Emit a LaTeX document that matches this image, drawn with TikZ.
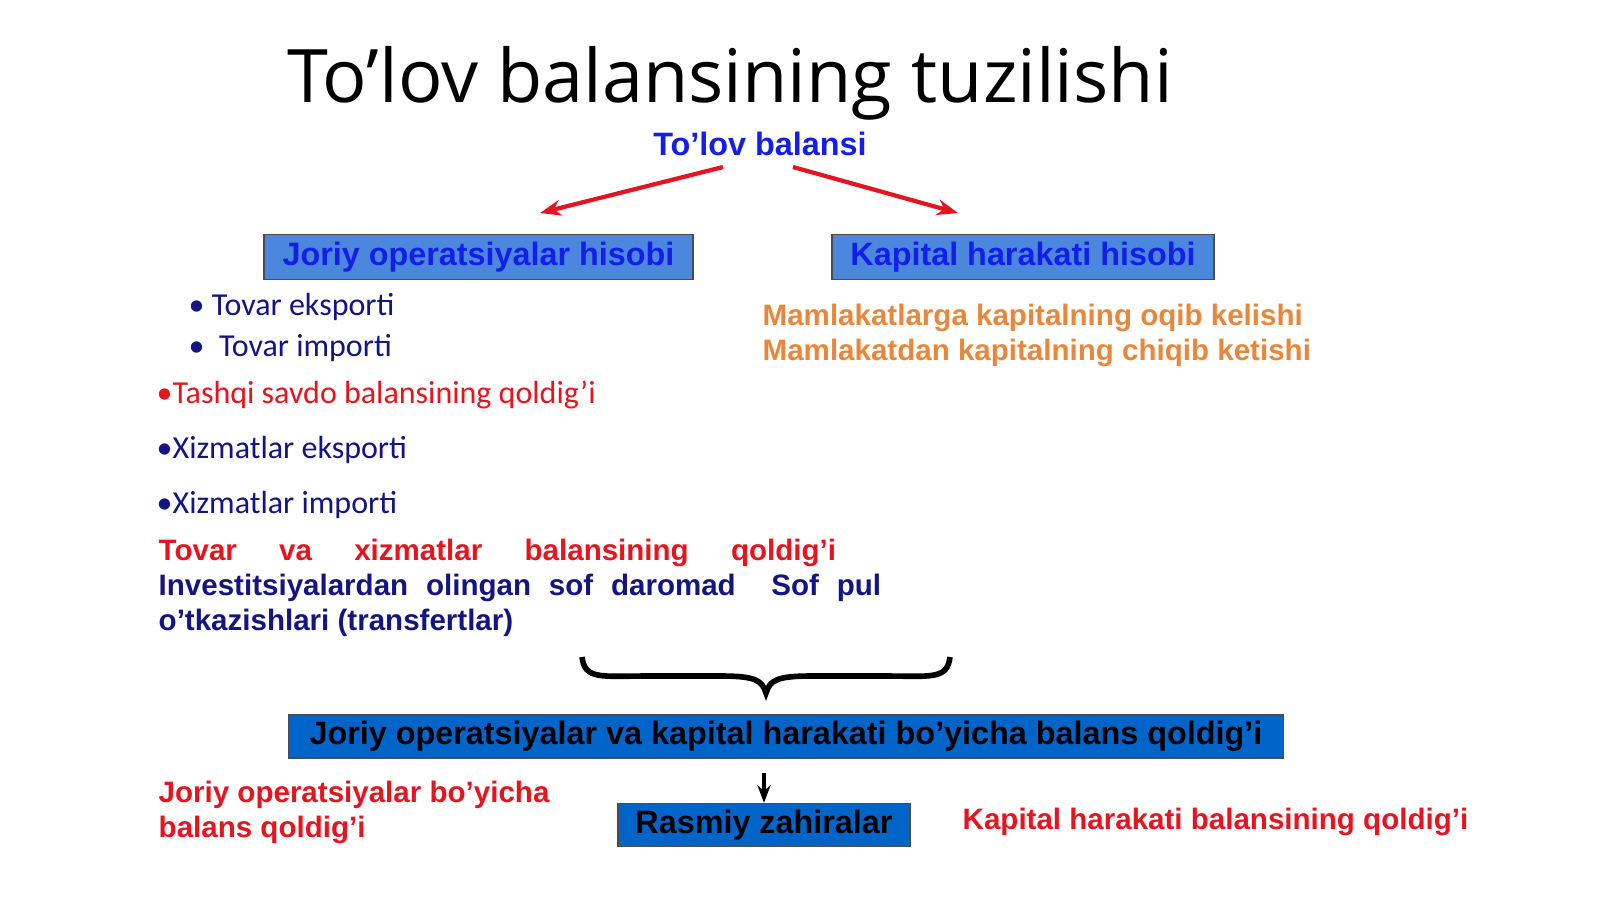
\documentclass[tikz,border=0pt]{standalone}
\usepackage{fontspec}
\setmainfont{Liberation Sans}
\newfontfamily\titlefont{Open Sans}
\newfontfamily\listfont{Carlito}
\usetikzlibrary{arrows.meta}
\definecolor{navy}{RGB}{20,20,130}
\definecolor{redtxt}{RGB}{230,20,30}
\definecolor{orangetxt}{RGB}{232,135,60}
\definecolor{bluetxt}{RGB}{20,30,235}
\definecolor{boxlight}{RGB}{75,135,220}
\definecolor{boxdark}{RGB}{0,100,200}
\tikzset{
  head/.style={font=\fontsize{9.2}{11}\selectfont\bfseries, inner sep=0pt},
  item/.style={font=\listfont\fontsize{9.1}{11}\selectfont, anchor=west, inner sep=0pt},
  bold/.style={font=\fontsize{8.4}{10}\selectfont\bfseries, anchor=west, inner sep=0pt},
  hbox/.style={draw=black!70, fill=boxlight, text=bluetxt, font=\fontsize{9.2}{11}\selectfont\bfseries, minimum height=0.45cm, inner sep=0pt},
  dbox/.style={draw=black!70, fill=boxdark, text=black, font=\fontsize{9.2}{11}\selectfont\bfseries, minimum height=0.43cm, inner sep=0pt},
  link/.style={redtxt, line width=1.2pt, -{Stealth[length=6pt]}}
}
\begin{document}
\begin{tikzpicture}[x=0.01cm, y=-0.01cm]
  \useasboundingbox (0,0) rectangle (1600,899);

  % title
  \node[font=\titlefont\fontsize{21}{24}\selectfont, inner sep=0pt] (title) at (730,83) {To’lov balansining tuzilishi};
  \node[head, text=bluetxt] (root) at (760,144) {To’lov balansi};

  % two accounts
  \node[hbox, minimum width=4.29cm] (cur) at (478.5,257) {Joriy operatsiyalar hisobi};
  \node[hbox, minimum width=3.82cm] (cap) at (1023,257) {Kapital harakati hisobi};
  \coordinate (la) at (723,167);
  \coordinate (lb) at (540,213);
  \coordinate (ra) at (793,167);
  \coordinate (rb) at (958,213);
  \draw[link] (la) -- (lb);
  \draw[link] (ra) -- (rb);

  % current account items
  \node[item, text=navy] (ex) at (188,307) {\textbullet\ Tovar eksporti};
  \node[item, text=navy] (im) at (188,348) {\textbullet\ \ Tovar importi};
  \node[item, text=redtxt] (ts) at (156,395) {\textbullet Tashqi savdo balansining qoldig’i};
  \node[item, text=navy] (xe) at (156,450) {\textbullet Xizmatlar eksporti};
  \node[item, text=navy] (xi) at (156,505) {\textbullet Xizmatlar importi};
  \node[bold, text=redtxt] (tx) at (158,553) {\makebox[6.77cm][s]{Tovar\hfill va\hfill xizmatlar\hfill balansining\hfill qoldig’i}};
  \node[bold, text=navy] (inv) at (158,588) {\makebox[7.22cm][s]{Investitsiyalardan\hfill olingan\hfill sof\hfill daromad\hfill\hfill Sof\hfill pul}};
  \node[bold, text=navy] (otk) at (158,623) {o’tkazishlari (transfertlar)};

  % capital account items
  \node[bold, text=orangetxt] (in) at (762,318) {Mamlakatlarga kapitalning oqib kelishi};
  \node[bold, text=orangetxt] (out) at (762,353) {Mamlakatdan kapitalning chiqib ketishi};

  % brace
  \draw[line width=1.6pt] (582,657) .. controls (585,680) and (600,676) .. (650,676) -- (720,676)
    .. controls (755,676) and (762,680) .. (766,693)
    .. controls (770,680) and (777,676) .. (812,676) -- (882,676)
    .. controls (932,676) and (947,680) .. (950,657);

  % totals
  \node[dbox, minimum width=9.94cm] (sum) at (786,736.5) {Joriy operatsiyalar va kapital harakati bo’yicha balans qoldig’i};
  \node[dbox, minimum width=2.92cm] (res) at (764,825) {Rasmiy zahiralar};
  \coordinate (da) at (764,773);
  \draw[line width=1.2pt, -{Stealth[length=5pt]}] (da) -- (res.north);
  \node[bold, text=redtxt, align=left, font=\fontsize{8.4}{10}\selectfont\bfseries] (jb) at (158,812) {Joriy operatsiyalar bo’yicha\\balans qoldig’i};
  \node[bold, text=redtxt] (kb) at (962,822) {Kapital harakati balansining qoldig’i};
\end{tikzpicture}
\end{document}
